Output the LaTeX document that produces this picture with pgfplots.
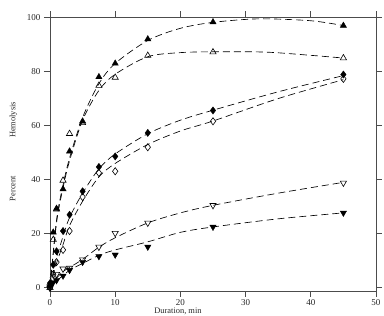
\documentclass[border=0pt]{standalone}
\usepackage{fontspec}
\setmainfont{Liberation Serif}
\usepackage{pgfplots}
\pgfplotsset{compat=1.18}
\begin{document}
\begin{tikzpicture}
\begin{axis}[
  at={(0,0)}, anchor=south west,
  scale only axis, width=326pt, height=273.5pt,
  xmin=0, xmax=50, ymin=-1.2, ymax=100,
  xtick={0,10,...,50}, ytick={0,20,...,100},
  tick align=outside, tick pos=both, major tick length=6pt,
  axis line style={gray!60!black, line width=0.7pt},
  tick style={gray!60!black, line width=0.7pt},
  /pgf/number format/assume math mode=true,
  ticklabel style={font=\fontsize{9}{10}\selectfont, text=black!85},
  xticklabel style={yshift=1pt},
  label style={font=\fontsize{8.4}{10}\selectfont, text=black!85},
  xlabel={Duration, min},
  ylabel={Percent\hspace{38pt}Hemolysis},
  xlabel style={at={(axis description cs:0.3926,-0.0745)}, anchor=center},
  ylabel style={at={(axis description cs:-0.1126,0.51)}, anchor=center},
  clip=false,
]
% fitted dashed curves
\addplot[black, dash pattern=on 7pt off 4pt, line width=0.65pt, smooth, no marks] coordinates {
(0,0) (1,25) (2,38) (3,48) (5,63) (7.5,75.5) (10,83) (15,91.5) (20,96) (25,98.2) (32,99.5) (40,98.8) (45,97)};
\addplot[black, dash pattern=on 7pt off 4pt, line width=0.65pt, smooth, no marks] coordinates {
(0,0) (1,24) (2,37) (3,47) (5,62) (7.5,73) (10,79) (15,85.5) (20,87) (25,87.3) (33,87.2) (40,86) (45,85)};
\addplot[black, dash pattern=on 7pt off 4pt, line width=0.65pt, smooth, no marks] coordinates {
(0,0) (0.5,6) (1,11) (2,19) (3,26) (5,35) (7.5,44) (10,49.5) (15,57) (20,62) (25,65.7) (35,72.5) (45,78.5)};
\addplot[black, dash pattern=on 7pt off 4pt, line width=0.65pt, smooth, no marks] coordinates {
(0,0) (1,9) (2,16) (3,23) (5,32) (7.5,41) (10,46) (15,53) (20,58) (25,61.7) (35,70) (45,77)};
\addplot[black, dash pattern=on 7pt off 4pt, line width=0.65pt, smooth, no marks] coordinates {
(0,0) (1,3.5) (2,6) (3,7.5) (5,10.5) (7.5,15) (10,18.5) (15,24) (20,27.7) (25,30.5) (35,35) (45,39)};
\addplot[black, dash pattern=on 7pt off 4pt, line width=0.65pt, smooth, no marks] coordinates {
(0,0) (1,2.5) (2,4.5) (3,6.5) (5,9) (7.5,12) (10,14) (15,17) (20,20.5) (25,22.5) (35,25.5) (45,27.7)};
% open markers
\addplot[only marks, mark=triangle, mark size=3.6pt, mark options={black, line width=0.6pt}] coordinates {
(0,0) (0.5,17.8) (1,29) (2,39.7) (3,57) (5,61) (7.5,74.8) (10,77.8) (15,85.9) (25,87.2) (45,85)};
\addplot[only marks, mark=diamond, mark size=3.6pt, mark options={black, line width=0.6pt}] coordinates {
(0,0) (0.5,5) (1,9.5) (2,14) (3,21) (5,33.6) (7.5,42.5) (10,43.1) (15,52) (25,61.6) (45,77.3)};
\addplot[only marks, mark=triangle, mark size=3.6pt, mark options={black, line width=0.6pt, rotate=180}] coordinates {
(0,0) (0.5,3) (1,5) (2,7) (3,7.3) (5,10.4) (7.5,15.1) (10,20.2) (15,24) (25,30.5) (45,38.8)};
% filled markers
\addplot[only marks, mark=triangle*, mark size=3.6pt, mark options={black, fill=black}] coordinates {
(0,1) (0.5,20.5) (1,29.3) (2,36.5) (3,50.5) (5,61.6) (7.5,78) (10,83) (15,92) (25,98.3) (45,97)};
\addplot[only marks, mark=diamond*, mark size=3.6pt, mark options={black, fill=black}] coordinates {
(0,1.7) (0.5,8.5) (1,13.5) (2,21) (3,27) (5,35.7) (7.5,44.7) (10,48.6) (15,57.3) (25,65.6) (45,78.9)};
\addplot[only marks, mark=triangle*, mark size=3.6pt, mark options={black, fill=black, rotate=180}] coordinates {
(0,0.5) (0.5,2) (1,2.7) (2,4.4) (3,6.5) (5,9.5) (7.5,11.6) (10,12.2) (15,15.1) (25,22.5) (45,27.7)};
\end{axis}
\pgfresetboundingbox
\path[use as bounding box] (-50pt,-25pt) rectangle (334pt,291pt);
\end{tikzpicture}
\end{document}
